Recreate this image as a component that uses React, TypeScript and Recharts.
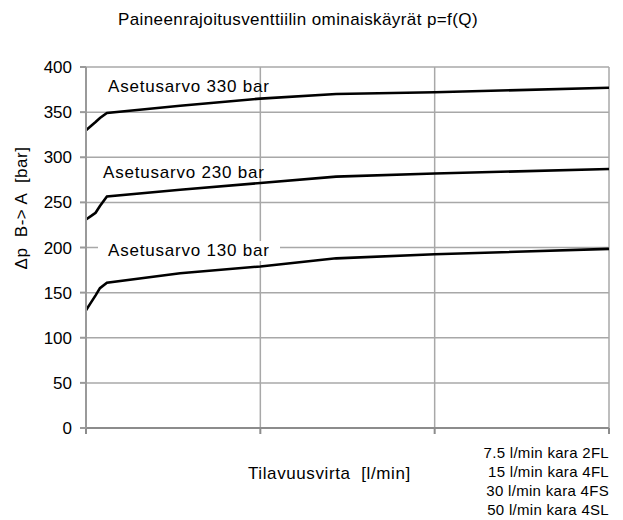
import React from 'react';
import { LineChart, Line, XAxis, YAxis, CartesianGrid } from 'recharts';

const flow = [0, 0.6, 1.1, 1.6, 2.4, 10.8, 20, 28.7, 40, 60];
const set330 = [330, 335, 339, 343.5, 349, 357, 365, 370, 372, 377];
const set230 = [231, 235, 238.5, 246, 256.5, 264, 271.5, 278.5, 282, 287];
const set130 = [130.5, 139.5, 147, 155, 161, 171.5, 179, 188, 192.5, 198.5];

const yTicks = [0, 50, 100, 150, 200, 250, 300, 350, 400];
const xTicks = [0, 20, 40, 60];
const spoolNotes = [
    '7.5 l/min kara 2FL',
    '15 l/min kara 4FL',
    '30 l/min kara 4FS',
    '50 l/min kara 4SL',
];

const font = '"Liberation Sans", Arial, sans-serif';

const chartData = flow.map((q, i) => ({
    q,
    s330: set330[i],
    s230: set230[i],
    s130: set130[i],
}));

// x axis has tick marks but no labels
const noLabel = () => <g />;

const curveLabel: React.CSSProperties = {
    position: 'absolute',
    fontSize: 17,
    letterSpacing: 0.8,
    lineHeight: '20px',
    color: '#000',
    whiteSpace: 'nowrap',
};

const App: React.FC = () => {
    return (
        <div style={{ position: 'absolute', left: 0, top: 0, width: 623, height: 520, background: '#fff', fontFamily: font }}>
            <LineChart
                width={623}
                height={520}
                data={chartData}
                margin={{ top: 67, right: 14, bottom: 82, left: 0 }}
            >
                <CartesianGrid stroke="#a8a8a8" strokeWidth={1.5} vertical horizontal />
                <XAxis
                    dataKey="q"
                    type="number"
                    domain={[0, 60]}
                    ticks={xTicks}
                    tick={noLabel}
                    height={10}
                    stroke="#8c8c8c"
                    strokeWidth={2}
                    tickSize={6}
                />
                <YAxis
                    type="number"
                    domain={[0, 400]}
                    ticks={yTicks}
                    width={86}
                    stroke="#9a9a9a"
                    strokeWidth={2}
                    tickSize={6}
                    tickMargin={8}
                    tick={{ fontSize: 17, fill: '#000', fontFamily: font }}
                />
                <Line type="linear" dataKey="s330" stroke="#000" strokeWidth={2.6} dot={false} isAnimationActive={false} />
                <Line type="linear" dataKey="s230" stroke="#000" strokeWidth={2.6} dot={false} isAnimationActive={false} />
                <Line type="linear" dataKey="s130" stroke="#000" strokeWidth={2.6} dot={false} isAnimationActive={false} />
            </LineChart>

            <div style={{ position: 'absolute', left: 0, width: 596, top: 10, textAlign: 'center', fontSize: 17, letterSpacing: 0.4, whiteSpace: 'nowrap' }}>
                Paineenrajoitusventtiilin ominaiskäyrät p=f(Q)
            </div>

            <div style={{ ...curveLabel, left: 108, top: 77 }}>Asetusarvo 330 bar</div>
            <div style={{ ...curveLabel, left: 103, top: 163 }}>Asetusarvo 230 bar</div>
            <div style={{ ...curveLabel, left: 98, top: 241, paddingLeft: 10, paddingRight: 10, background: '#fff' }}>
                Asetusarvo 130 bar
            </div>

            <div
                style={{
                    position: 'absolute',
                    left: 22,
                    top: 208,
                    transform: 'translate(-50%, -50%) rotate(-90deg)',
                    fontSize: 17,
                    letterSpacing: 0.5,
                    whiteSpace: 'pre',
                }}
            >
                {'Δp  B-> A  [bar]'}
            </div>

            <div style={{ position: 'absolute', left: 248, top: 464, fontSize: 17, letterSpacing: 0.6, whiteSpace: 'pre' }}>
                {'Tilavuusvirta  [l/min]'}
            </div>

            <div style={{ position: 'absolute', right: 14, top: 443, textAlign: 'right', fontSize: 15, letterSpacing: 0.3, lineHeight: '19px' }}>
                {spoolNotes.map((t) => (
                    <div key={t}>{t}</div>
                ))}
            </div>
        </div>
    );
};

export default App;
